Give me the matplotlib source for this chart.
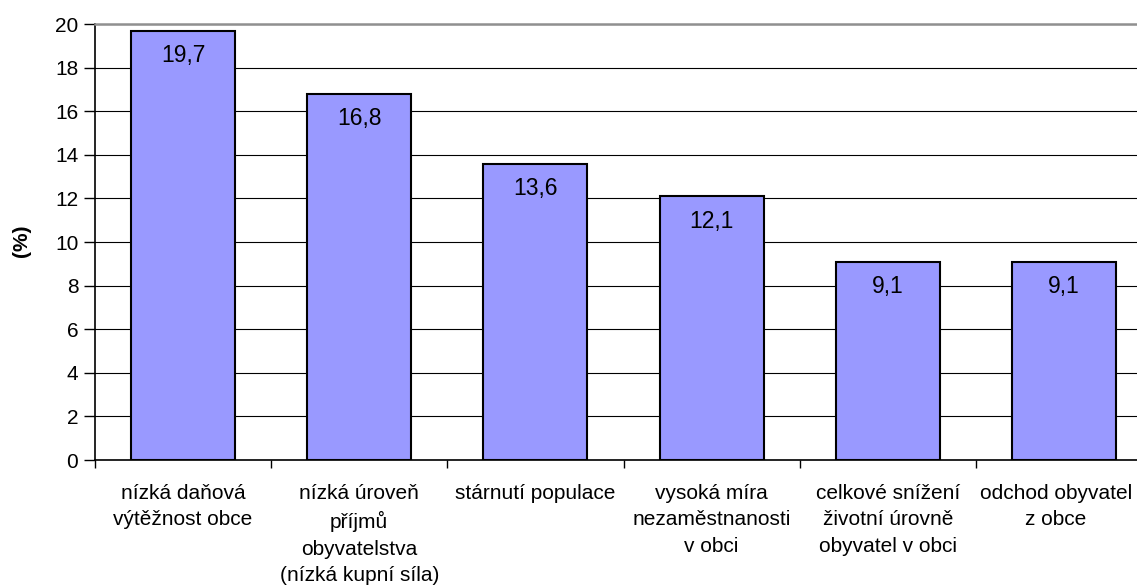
import matplotlib
matplotlib.use("Agg")
import matplotlib.pyplot as plt
import matplotlib.transforms as mtransforms
import numpy as np

categories = [
    "nízká daňová\nvýtěžnost obce",
    "nízká úroveň\npříjmů\nobyvatelstva\n(nízká kupní síla)",
    "stárnutí populace",
    "vysoká míra\nnezaměstnanosti\nv obci",
    "celkové snížení\nživotní úrovně\nobyvatel v obci",
    "odchod obyvatel\nz obce",
]
values = [19.7, 16.8, 13.6, 12.1, 9.1, 9.1]
value_labels = ["19,7", "16,8", "13,6", "12,1", "9,1", "9,1"]
yticks = [0, 2, 4, 6, 8, 10, 12, 14, 16, 18, 20]

plt.rcParams['font.family'] = ['Liberation Sans', 'DejaVu Sans']

W, H = 1137, 587
fig = plt.figure(figsize=(W / 100, H / 100), dpi=100)
left, right, top, bottom = 95, 1152, 24, 460
ax = fig.add_axes([left / W, 1 - bottom / H, (right - left) / W, (bottom - top) / H])

x = np.arange(len(categories))
ax.bar(x, values, width=0.59, color="#9999FF", edgecolor="black", linewidth=1.5, zorder=3)

ax.set_xlim(-0.5, len(categories) - 0.5)
ax.set_ylim(0, 20)
ax.set_yticks(yticks)
ax.set_yticklabels([str(t) for t in yticks], fontsize=15)
ax.yaxis.grid(True, color="black", linewidth=0.8, zorder=0)
ax.set_axisbelow(True)

# category boundaries as major ticks, labels at centers via minor ticks
ax.set_xticks(np.arange(len(categories) + 1) - 0.5)
ax.set_xticklabels([])
ax.set_xticks(x, minor=True)
labels = ax.set_xticklabels(categories, minor=True, fontsize=15, linespacing=1.5,
                            ha="center", va="top")
ax.tick_params(axis="x", which="minor", length=0, pad=17)
ax.tick_params(axis="x", which="major", length=6, width=1, direction="out", color="black")
ax.tick_params(axis="y", length=8, width=1, direction="out", pad=4)
# last label sits a little left of its category centre, as in the source
labels[-1].set_transform(labels[-1].get_transform() +
                         mtransforms.ScaledTranslation(-8 / 100, 0, fig.dpi_scale_trans))

for s in ["left", "bottom"]:
    ax.spines[s].set_color("black")
    ax.spines[s].set_linewidth(1.2)
ax.spines["top"].set_color("#909090")
ax.spines["top"].set_linewidth(1.8)
ax.spines["right"].set_visible(False)

for xi, v, lab in zip(x, values, value_labels):
    ax.annotate(lab, (xi, v), xytext=(0, -25), textcoords="offset pixels",
                ha="center", va="center", fontsize=16.5, zorder=4)

fig.text(22 / W, 1 - 241 / H, "(%)", rotation=90, fontsize=15, fontweight="bold",
         ha="center", va="center")

fig.savefig("out.png", dpi=100)
